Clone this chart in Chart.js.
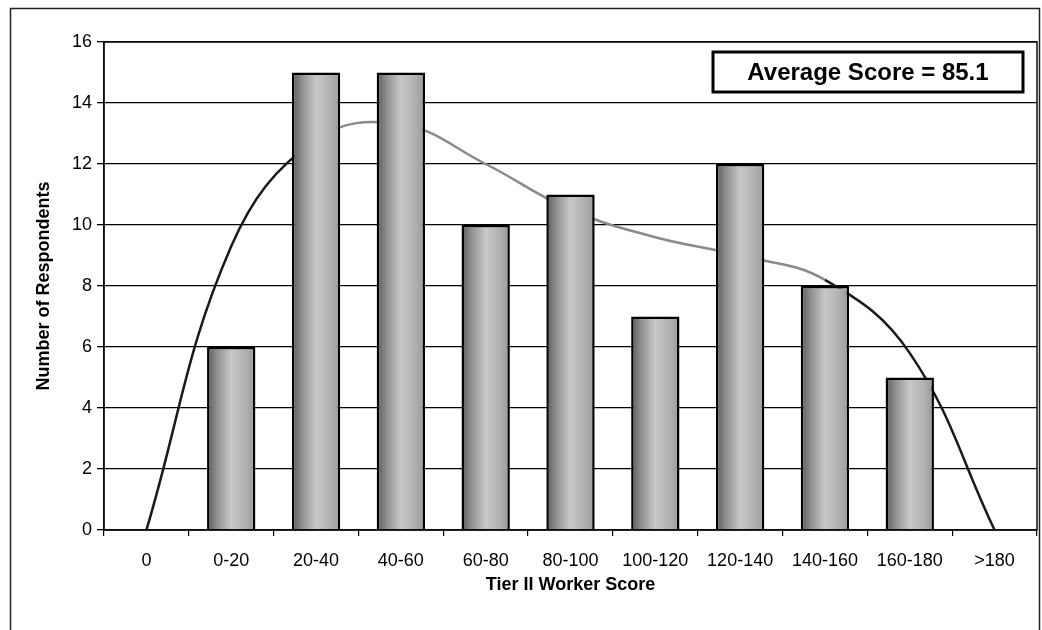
<!DOCTYPE html>
<html>
<head>
<meta charset="utf-8">
<script src="https://cdn.jsdelivr.net/npm/chart.js@4/dist/chart.umd.min.js"></script>
<style>
  body { margin: 0; background: #fff; }
  canvas { display: block; }
</style>
</head>
<body>
<canvas id="scoreChart" width="1042" height="630"></canvas>
<script>
const categories = ['0', '0-20', '20-40', '40-60', '60-80', '80-100', '100-120', '120-140', '140-160', '160-180', '>180'];
const respondents = [null, 6, 15, 15, 10, 11, 7, 12, 8, 5, null];
const trendLine = [0, 9.3, 12.8, 13.3, 12.0, 10.5, 9.6, 9.0, 8.2, 5.8, 0];
const yMax = 16;
const yStep = 2;
const averageLabel = 'Average Score = 85.1';

const barPct = 0.57;
const fontFamily = '"Liberation Sans", Arial, sans-serif';

function barFill(ctx) {
    const chart = ctx.chart;
    const x = chart.scales.x;
    if (!chart.chartArea || !x || ctx.type !== 'data') return '#a8a8a8';
    const bw = (x.width / categories.length) * barPct;
    const cx = x.getPixelForValue(ctx.dataIndex);
    const g = chart.ctx.createLinearGradient(cx - bw / 2, 0, cx + bw / 2, 0);
    g.addColorStop(0, '#5a5a5a');
    g.addColorStop(0.2, '#8e8e8e');
    g.addColorStop(0.5, '#c8c8c8');
    g.addColorStop(0.8, '#b0b0b0');
    g.addColorStop(1, '#999');
    return g;
}

// frame, plot border and the average score box
const framePlugin = {
    id: 'frame',
    beforeDraw(chart) {
        const c = chart.ctx;
        c.save();
        c.fillStyle = '#fff';
        c.fillRect(0, 0, chart.width, chart.height);
        c.strokeStyle = '#222';
        c.lineWidth = 1.5;
        c.strokeRect(10.5, 8.5, 1029, 660);
        c.restore();
    },
    afterDraw(chart) {
        const c = chart.ctx;
        const a = chart.chartArea;
        c.save();
        c.strokeStyle = '#111';
        c.lineWidth = 1.5;
        c.strokeRect(a.left, a.top, a.right - a.left, a.bottom - a.top);

        const bx = 713, by = 52, bw = 310, bh = 40;
        c.fillStyle = '#fff';
        c.fillRect(bx, by, bw, bh);
        c.lineWidth = 3;
        c.strokeStyle = '#000';
        c.strokeRect(bx, by, bw, bh);
        c.fillStyle = '#000';
        c.font = 'bold 24px ' + fontFamily;
        c.textAlign = 'center';
        c.textBaseline = 'middle';
        c.fillText(averageLabel, bx + bw / 2, by + bh / 2 + 1);
        c.restore();
    }
};

const chart = new Chart(document.getElementById('scoreChart'), {
    type: 'bar',
    data: {
        labels: categories,
        datasets: [{
            type: 'bar',
            label: 'Respondents',
            data: respondents,
            backgroundColor: barFill,
            borderColor: '#000',
            borderWidth: 2.5,
            barPercentage: barPct,
            categoryPercentage: 1,
            order: 1
        }, {
            type: 'line',
            label: 'Trend',
            data: trendLine,
            borderWidth: 2.5,
            borderColor: '#8a8a8a',
            segment: {
                borderColor: s => (s.p0DataIndex <= 1 || s.p0DataIndex >= 8) ? '#1a1a1a' : '#8a8a8a'
            },
            tension: 0.4,
            pointRadius: 0,
            fill: false,
            order: 2
        }]
    },
    options: {
        responsive: false,
        animation: false,
        layout: {
            padding: { left: 33, top: 42, right: 5, bottom: 34 }
        },
        plugins: {
            legend: { display: false },
            tooltip: { enabled: false }
        },
        scales: {
            x: {
                grid: {
                    display: true,
                    drawOnChartArea: false,
                    drawTicks: true,
                    tickLength: 6,
                    color: '#000',
                    lineWidth: 1.2
                },
                border: { color: '#000', width: 1.5 },
                ticks: {
                    color: '#000',
                    padding: 14,
                    font: { family: fontFamily, size: 18 }
                },
                title: {
                    display: true,
                    text: 'Tier II Worker Score',
                    color: '#000',
                    padding: 0,
                    font: { family: fontFamily, size: 18, weight: 'bold' }
                },
                afterFit(scale) { scale.height = 66; }
            },
            y: {
                min: 0,
                max: yMax,
                grid: {
                    color: '#000',
                    lineWidth: 1.3,
                    drawTicks: true,
                    tickLength: 7
                },
                border: { color: '#000', width: 1.5 },
                ticks: {
                    stepSize: yStep,
                    color: '#000',
                    padding: 5,
                    font: { family: fontFamily, size: 18 }
                },
                title: {
                    display: true,
                    text: 'Number of Respondents',
                    color: '#000',
                    padding: 0,
                    font: { family: fontFamily, size: 18, weight: 'bold' }
                },
                afterFit(scale) { scale.width = 71; }
            }
        }
    },
    plugins: [framePlugin]
});
</script>
</body>
</html>
